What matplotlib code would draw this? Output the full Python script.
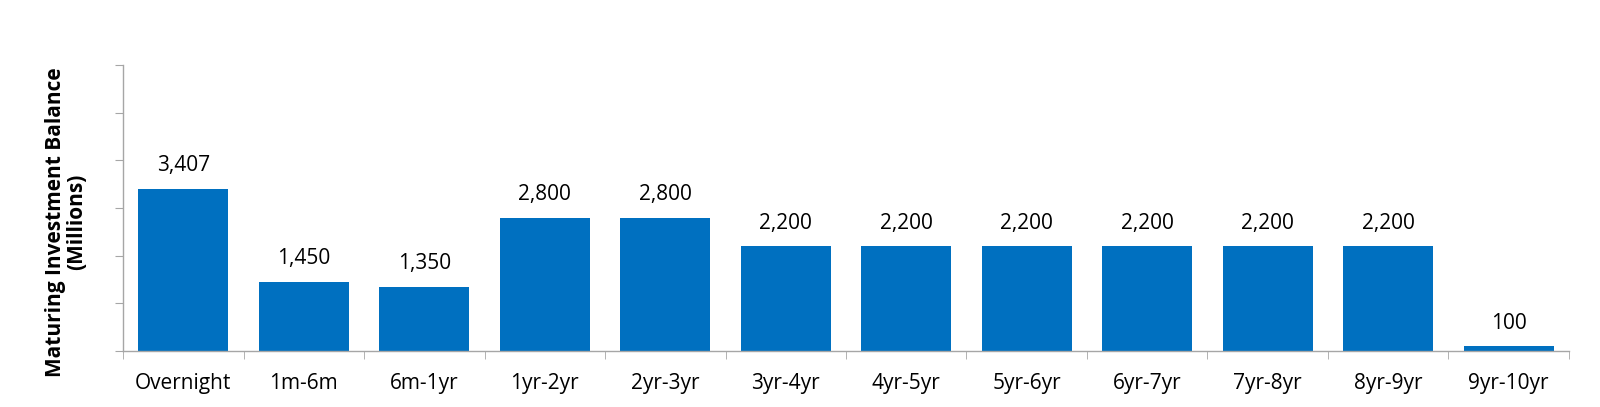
import matplotlib.pyplot as plt
import numpy as np

plt.rcParams['font.family'] = ['Open Sans', 'DejaVu Sans']

categories = ["Overnight", "1m-6m", "6m-1yr", "1yr-2yr", "2yr-3yr", "3yr-4yr",
              "4yr-5yr", "5yr-6yr", "6yr-7yr", "7yr-8yr", "8yr-9yr", "9yr-10yr"]
balances = [3407, 1450, 1350, 2800, 2800, 2200, 2200, 2200, 2200, 2200, 2200, 100]

bar_color = "#0070C0"
axis_color = "#A6A6A6"

fig = plt.figure(figsize=(16, 4.07), dpi=100)
ax = fig.add_axes([0.0769, 0.1376, 0.9037, 0.7027])

x = np.arange(len(categories))
bars = ax.bar(x, balances, width=0.75, color=bar_color)

for xi, v in zip(x, balances):
    ax.annotate(f"{v:,}", (xi, v), textcoords="offset points", xytext=(0, 9),
                ha="center", va="bottom", fontsize=15, color="#000000")

ax.set_xlim(-0.5, len(categories) - 0.5)
ax.set_ylim(0, 6000)
ax.set_yticks(np.arange(0, 6001, 1000))
ax.set_yticklabels([])
ax.set_xticks(x)
ax.set_xticklabels(categories, fontsize=15)
ax.set_xticks(np.arange(-0.5, len(categories)), minor=True)
ax.tick_params(axis="x", which="major", length=0, pad=16)
ax.tick_params(axis="x", which="minor", length=6, color=axis_color, direction="out")
ax.tick_params(axis="y", length=6, color=axis_color, direction="out")

for side in ["top", "right"]:
    ax.spines[side].set_visible(False)
for side in ["left", "bottom"]:
    ax.spines[side].set_color(axis_color)
    ax.spines[side].set_linewidth(1)

ax.set_ylabel("Maturing Investment Balance\n(Millions)", fontsize=15,
              fontweight="bold", labelpad=16, linespacing=1.05)
ax.yaxis.label.set_y(0.45)

fig.savefig("out.png", dpi=100)
